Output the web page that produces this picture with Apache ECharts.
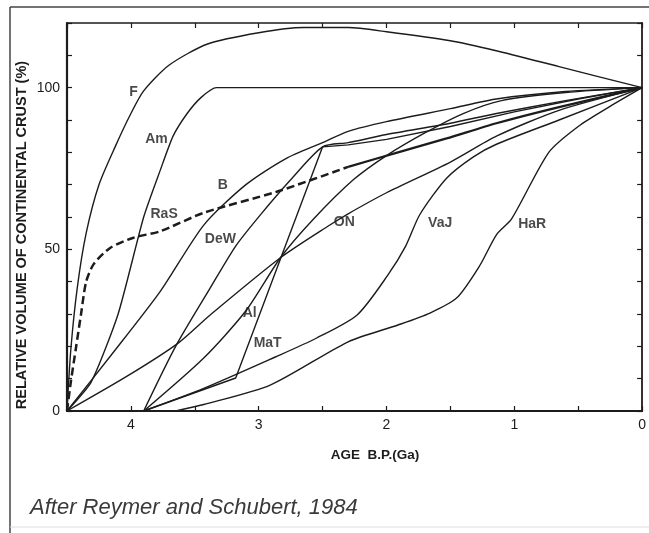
<!DOCTYPE html>
<html>
<head>
<meta charset="utf-8">
<script src="https://cdn.jsdelivr.net/npm/echarts@6/dist/echarts.min.js"></script>
<style>
  html, body { margin: 0; padding: 0; background: #fff; }
  #chart { width: 649px; height: 533px; }
</style>
</head>
<body>
<div id="chart"></div>
<script>
// Crustal growth models: relative volume of continental crust (%) vs age (Ga)
// Each model is a list of [age Ga, volume %] points.
const F    = [[4.5,0],[4.47,19],[4.42,38],[4.35,55],[4.25,70],[4.12,82],[4.0,92],[3.9,99],[3.7,107],[3.4,113.5],[3.0,117],[2.65,118.6],[2.3,118.6],[2.0,117.3],[1.5,114.5],[1.15,111.5],[0.65,106.5],[0,100]];
const Am   = [[4.5,0],[4.31,9],[4.1,30],[3.9,60],[3.77,74.5],[3.67,85],[3.56,92],[3.45,97],[3.33,100],[0,100]];
const RaSd = [[4.5,0],[4.47,9],[4.43,19.5],[4.39,30],[4.35,40],[4.29,45.5],[4.16,50.5],[3.98,53.6],[3.77,55.6],[3.43,61.3],[2.86,67.8],[2.3,75.5]];
const RaSs = [[2.3,75.5],[1.91,80],[1.53,84.3],[1.14,89],[0.65,94],[0,100]];
const B    = [[4.5,0],[4.16,17],[3.77,37],[3.43,57.5],[3.1,70],[2.79,78],[2.5,83],[2.3,86.5],[2.0,89.5],[1.5,93.5],[1.14,96.5],[0.6,98.8],[0,100]];
const DeW  = [[3.9,0],[3.65,20],[3.38,38],[3.18,51],[2.99,60.5],[2.75,71.5],[2.5,81.7],[2.3,83],[2.0,85.5],[1.5,89],[1.14,92],[0.6,96],[0,100]];
const Al   = [[3.9,0],[3.43,16.4],[3.1,31],[2.83,47.4],[2.58,59],[2.26,71.5],[2.0,79],[1.7,86],[1.4,92],[1.1,96],[0.6,98.5],[0,100]];
const MaT  = [[3.9,0],[3.18,10.2],[2.5,81.7],[2.3,82.3],[2.0,84],[1.5,88],[1.0,92.5],[0.5,96.5],[0,100]];
const ON   = [[4.5,0],[4.02,11],[3.63,21],[3.38,29.7],[2.83,47.4],[2.44,57.6],[2.3,61],[2.0,67.5],[1.5,77],[1.14,85],[0.65,93],[0,100]];
const VaJ  = [[3.9,0],[3.43,7],[2.87,16.7],[2.55,22.5],[2.23,29.7],[1.99,42],[1.85,51],[1.74,60.7],[1.53,72],[1.32,78.6],[1.14,82.5],[0.65,90],[0,100]];
const HaR  = [[3.65,0],[3.43,2],[2.91,8],[2.3,21.4],[1.91,26.6],[1.66,30.3],[1.45,35],[1.27,45],[1.14,54.5],[1.02,59.5],[0.73,80],[0.5,88],[0.26,94],[0,100]];

// Model labels: [text, age, volume]
const labelText = ['F','Am','B','RaS','DeW','ON','VaJ','HaR','Al','MaT'];
const labelAge  = [3.98,3.80,3.28,3.74,3.30,2.33,1.58,0.86,3.07,2.93];
const labelVol  = [98.5,84.2,70.0,61.0,53.0,58.5,58.2,57.9,30.3,21.0];

// Axis ticks
const xTicks = [4,3,2,1,0];
const yTickLabels = [0,50,100];

const ink = '#1c1c1c';
function line(name, data, opts) {
  return Object.assign({
    name, type: 'line', data, showSymbol: false, smooth: 0.25,
    lineStyle: { color: ink, width: 1.4 }, z: 3, silent: true
  }, opts || {});
}

const series = [
  line('F', F),
  line('Am', Am, { smooth: 0.2 }),
  line('RaS', RaSd, { lineStyle: { color: ink, width: 2.5, type: [8, 4] } }),
  line('RaS solid', RaSs, { lineStyle: { color: ink, width: 2.3 } }),
  line('B', B),
  line('DeW', DeW),
  line('Al', Al),
  line('MaT', MaT, { smooth: false }),
  line('ON', ON),
  line('VaJ', VaJ),
  line('HaR', HaR),
  {
    name: 'labels', type: 'scatter', symbolSize: 0, silent: true,
    data: labelText.map((t, i) => ({ value: [labelAge[i], labelVol[i]], name: t })),
    label: {
      show: true, position: 'inside', formatter: p => p.name,
      fontFamily: 'Liberation Sans, Arial, sans-serif', fontWeight: 'bold',
      fontSize: 14, color: ink
    }
  }
];

const chart = echarts.init(document.getElementById('chart'), null, { renderer: 'canvas' });
const axisCommon = {
  type: 'value', min: 0, max: 4.5, interval: 0.5, inverse: true,
  axisLine: { show: true, onZero: false, lineStyle: { color: ink, width: 1.6 } },
  axisTick: { show: true, inside: true, length: 5, lineStyle: { color: ink, width: 1.2 } },
  splitLine: { show: false }
};
chart.setOption({
  backgroundColor: '#fff',
  animation: false,
  grid: { left: 67, right: 3, top: 23, bottom: 122, containLabel: false },
  xAxis: [
    Object.assign({}, axisCommon, {
      position: 'bottom',
      axisLine: { show: true, onZero: false, lineStyle: { color: ink, width: 2.2 } },
      axisLabel: {
        show: true, margin: 7, color: ink, fontSize: 14,
        fontFamily: 'Liberation Sans, Arial, sans-serif',
        formatter: v => (xTicks.indexOf(v) >= 0 ? String(v) : '')
      }
    }),
    Object.assign({}, axisCommon, { position: 'top', axisLabel: { show: false } })
  ],
  yAxis: [
    {
      type: 'value', min: 0, max: 120, interval: 10, position: 'left',
      axisLine: { show: true, onZero: false, lineStyle: { color: ink, width: 2.2 } },
      axisTick: { show: true, inside: true, length: 5, lineStyle: { color: ink, width: 1.2 } },
      splitLine: { show: false },
      axisLabel: {
        show: true, margin: 7, color: ink, fontSize: 14,
        fontFamily: 'Liberation Sans, Arial, sans-serif',
        formatter: v => (yTickLabels.indexOf(v) >= 0 ? String(v) : '')
      }
    },
    {
      type: 'value', min: 0, max: 120, interval: 10, position: 'right',
      axisLine: { show: true, onZero: false, lineStyle: { color: ink, width: 1.8 } },
      axisTick: { show: true, inside: true, length: 5, lineStyle: { color: ink, width: 1.2 } },
      splitLine: { show: false },
      axisLabel: { show: false }
    }
  ],
  series,
  graphic: [
    // outer frame
    { type: 'line', shape: { x1: 10, y1: 7, x2: 649, y2: 7 }, style: { stroke: '#444', lineWidth: 1.5 } },
    { type: 'line', shape: { x1: 10, y1: 7, x2: 10, y2: 533 }, style: { stroke: '#444', lineWidth: 1.5 } },
    { type: 'line', shape: { x1: 10, y1: 527, x2: 649, y2: 527 }, style: { stroke: '#ddd', lineWidth: 1 } },
    {
      type: 'text', x: 22, y: 235, rotation: Math.PI / 2,
      style: {
        text: 'RELATIVE VOLUME OF CONTINENTAL CRUST (%)',
        fill: ink, font: 'bold 14.5px "Liberation Sans", Arial, sans-serif',
        textAlign: 'center', textVerticalAlign: 'middle'
      }
    },
    {
      type: 'text', x: 375, y: 455,
      style: {
        text: 'AGE  B.P.(Ga)', fill: ink,
        font: 'bold 13.5px "Liberation Sans", Arial, sans-serif',
        textAlign: 'center', textVerticalAlign: 'middle'
      }
    },
    {
      type: 'text', x: 30, y: 508,
      style: {
        text: 'After Reymer and Schubert, 1984', fill: '#3a3a3a',
        font: 'italic 22px "Liberation Sans", Arial, sans-serif',
        textAlign: 'left', textVerticalAlign: 'middle'
      }
    }
  ]
});
</script>
</body>
</html>
